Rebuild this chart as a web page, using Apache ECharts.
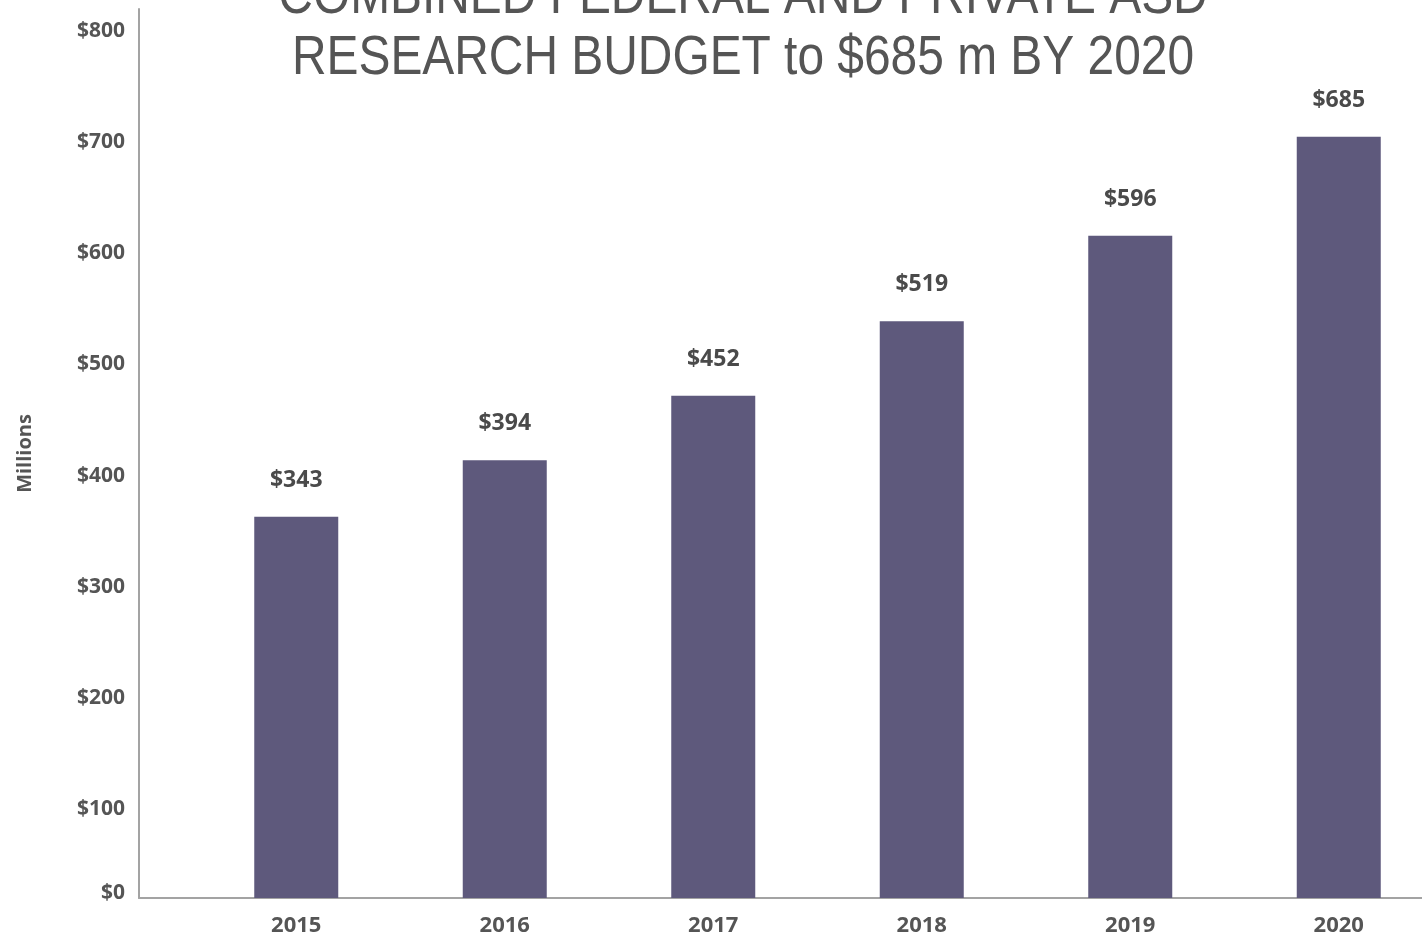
<!DOCTYPE html>
<html>
<head>
<meta charset="utf-8">
<script src="https://cdn.jsdelivr.net/npm/echarts@6/dist/echarts.min.js"></script>
<style>html,body{margin:0;padding:0;background:#fff}#c{width:1422px;height:935px}</style>
</head>
<body>
<div id="c"></div>
<script>
const years = ['2015', '2016', '2017', '2018', '2019', '2020'];
const budget = [343, 394, 452, 519, 596, 685];
const tickValues = [100, 200, 300, 400, 500, 600, 700, 800];
const zeroTick = [0];
const titleText = 'COMBINED FEDERAL AND PRIVATE ASD\nRESEARCH BUDGET to $685 m BY 2020';

const labelColor = '#555';
const font = '"Open Sans", "DejaVu Sans", sans-serif';
const chart = echarts.init(document.getElementById('c'), null, {renderer: 'canvas'});
chart.setOption({
  animation: false,
  backgroundColor: '#fff',
  graphic: [{
    type: 'text', x: 743, y: 89, scaleX: 0.855, z: 10,
    style: {text: titleText, x: 0, y: 0, align: 'center', verticalAlign: 'bottom',
      font: 'normal 56px "Liberation Sans", Arial, sans-serif', fill: '#555', lineHeight: 61}
  }],
  grid: [
    {left: 139, right: 0, top: 9, bottom: 37, outerBoundsMode: 'none'},
    {left: 192, width: 1251, top: 9, bottom: 37, outerBoundsMode: 'none'}
  ],
  xAxis: [
    {type: 'category', gridIndex: 0, data: years, axisLine: {lineStyle: {color: '#a3a3a3', width: 2}}, axisTick: {show: false}, axisLabel: {show: false}},
    {type: 'category', gridIndex: 1, data: years, axisLine: {show: false}, axisTick: {show: false},
      axisLabel: {color: labelColor, fontFamily: font, fontWeight: 'bold', fontSize: 22, margin: 17}}
  ],
  yAxis: [
    {type: 'value', gridIndex: 0, min: 0, max: 800,
      axisLine: {show: true, lineStyle: {color: '#a3a3a3', width: 2}}, axisTick: {show: false}, splitLine: {show: false},
      axisLabel: {customValues: zeroTick, formatter: v => '{z|$' + v + '}', margin: 14,
        rich: {z: {color: labelColor, fontFamily: font, fontWeight: 'bold', fontSize: 21, lineHeight: 30, verticalAlign: 'top'}}},
      name: 'Millions', nameLocation: 'middle', nameGap: 104, nameRotate: 90,
      nameTextStyle: {color: labelColor, fontFamily: font, fontWeight: 'bold', fontSize: 20}},
    {type: 'value', gridIndex: 0, min: 19.8, max: 820.0, position: 'left',
      axisLine: {show: false}, axisTick: {show: false}, splitLine: {show: false},
      axisLabel: {customValues: tickValues, formatter: v => '$' + v, color: labelColor, fontFamily: font, fontWeight: 'bold', fontSize: 21, margin: 14}},
    {type: 'value', gridIndex: 1, min: 0, max: 800, show: false, splitLine: {show: false}}
  ],
  series: [{
    type: 'bar', xAxisIndex: 1, yAxisIndex: 2, data: budget, barWidth: 84,
    itemStyle: {color: '#5e597c'},
    label: {show: true, position: 'top', distance: 25, formatter: p => '$' + p.value,
      color: '#4a4a4a', fontFamily: font, fontWeight: 'bold', fontSize: 23}
  }]
});
</script>
</body>
</html>
